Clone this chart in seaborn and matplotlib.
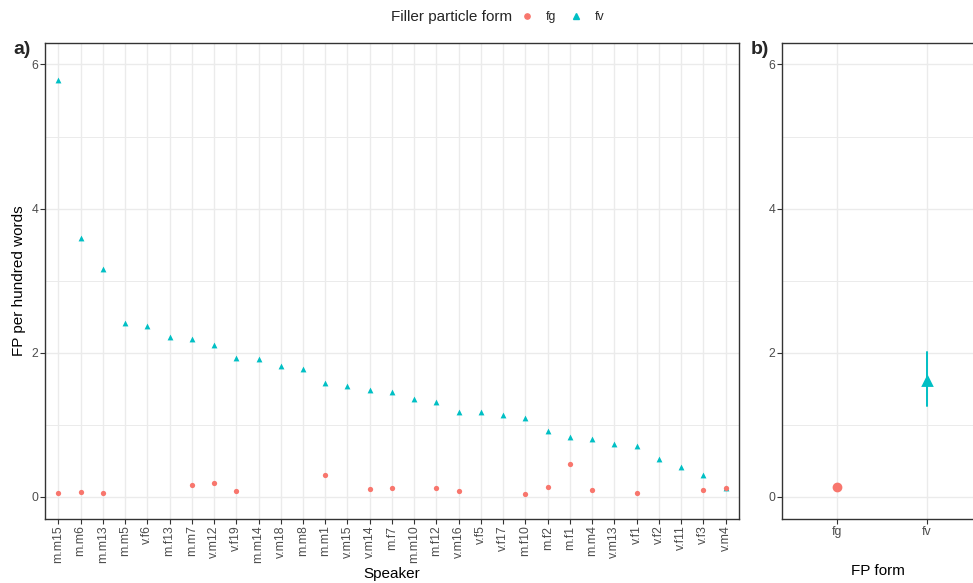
import numpy as np
import pandas as pd
import matplotlib
matplotlib.use("Agg")
import matplotlib.pyplot as plt
from matplotlib.lines import Line2D
from matplotlib.ticker import NullLocator
import seaborn as sns

# Speakers, ordered by their fv rate
speakers = ["m.m15", "m.m6", "m.m13", "m.m5", "v.f6", "m.f13", "m.m7", "v.m12",
            "v.f19", "m.m14", "v.m18", "m.m8", "m.m1", "v.m15", "v.m14", "m.f7",
            "m.m10", "m.f12", "v.m16", "v.f5", "v.f17", "m.f10", "m.f2", "m.f1",
            "m.m4", "v.m13", "v.f1", "v.f2", "v.f11", "v.f3", "v.m4"]

# Filler particles per hundred words, per speaker (None = form not used)
fv_rate = [5.79, 3.59, 3.16, 2.42, 2.37, 2.22, 2.19, 2.11,
           1.93, 1.91, 1.82, 1.78, 1.58, 1.54, 1.48, 1.46,
           1.36, 1.32, 1.18, 1.18, 1.14, 1.10, 0.91, 0.83,
           0.81, 0.74, 0.71, 0.52, 0.42, 0.30, 0.13]
fg_rate = [0.06, 0.07, 0.06, None, None, None, 0.17, 0.19,
           0.08, None, None, None, 0.30, None, 0.11, 0.12,
           None, 0.13, 0.08, None, None, 0.04, 0.14, 0.46,
           0.10, None, 0.05, None, None, 0.09, 0.13]

forms = ["fg", "fv"]
FG_COLOR = "#F8766D"
FV_COLOR = "#00BFC4"

df_fv = pd.DataFrame({"speaker": speakers, "rate": fv_rate, "form": "fv"})
df_fg = pd.DataFrame({"speaker": speakers, "rate": fg_rate, "form": "fg"})
df_fg["rate"] = pd.to_numeric(df_fg["rate"])
df_all = pd.concat([df_fg, df_fv], ignore_index=True).dropna(subset=["rate"])

sns.set_style("white")
plt.rcParams["font.family"] = ["Liberation Sans", "DejaVu Sans"]

GRID = "#EBEBEB"
BORDER = "#333333"
TICKLAB = "#4D4D4D"

fig = plt.figure(figsize=(9.73, 5.83), dpi=100)
ax_a = fig.add_axes([0.0462, 0.1105, 0.7133, 0.816])
ax_b = fig.add_axes([0.8042, 0.1105, 0.204, 0.816])

# Panel a: per-speaker rates
sns.stripplot(data=df_fv, x="speaker", y="rate", order=speakers, jitter=False,
              marker="^", color=FV_COLOR, size=4.2, linewidth=0, ax=ax_a, zorder=3)
sns.stripplot(data=df_fg.dropna(), x="speaker", y="rate", order=speakers, jitter=False,
              marker="o", color=FG_COLOR, size=3.8, linewidth=0, ax=ax_a, zorder=4)
ax_a.set_xticks(range(len(speakers)), speakers)
ax_a.set_xlim(-0.6, len(speakers) - 0.4)
ax_a.set_xlabel("Speaker", fontsize=11, color="black", labelpad=3)
ax_a.set_ylabel("FP per hundred words", fontsize=11, color="black", labelpad=4)
ax_a.tick_params(axis="x", labelrotation=90)

# Panel b: mean per form with bootstrapped 95% CI
sns.pointplot(data=df_all[df_all["form"] == "fg"], x="form", y="rate", order=forms,
              color=FG_COLOR, marker="o", markersize=5.0, linestyle="none",
              errorbar=("ci", 95), n_boot=2000, seed=7,
              err_kws={"linewidth": 1.4}, ax=ax_b)
sns.pointplot(data=df_all[df_all["form"] == "fv"], x="form", y="rate", order=forms,
              color=FV_COLOR, marker="^", markersize=6.0, linestyle="none",
              errorbar=("ci", 95), n_boot=2000, seed=7,
              err_kws={"linewidth": 1.4}, ax=ax_b)
ax_b.set_xticks(range(len(forms)), forms)
ax_b.set_xlim(-0.6, 1.6)
ax_b.set_xlabel("FP form", fontsize=11, color="black")
ax_b.xaxis.set_label_coords(0.479, -0.095)
ax_b.set_ylabel("")

for ax in (ax_a, ax_b):
    ax.set_ylim(-0.3, 6.3)
    ax.set_yticks([0, 2, 4, 6])
    ax.set_yticks([1, 3, 5], minor=True)
    ax.xaxis.set_minor_locator(NullLocator())
    ax.set_axisbelow(True)
    ax.grid(True, which="major", axis="both", color=GRID, linewidth=1.0)
    ax.grid(True, which="minor", axis="y", color=GRID, linewidth=0.7)
    ax.tick_params(axis="both", which="major", direction="out", length=3.5, width=0.8,
                   color=BORDER, labelcolor=TICKLAB, labelsize=8.8, pad=1.5,
                   bottom=True, left=True)
    ax.tick_params(axis="y", which="minor", length=0)
    for side in ("left", "right", "top", "bottom"):
        ax.spines[side].set_visible(True)
        ax.spines[side].set_color(BORDER)
        ax.spines[side].set_linewidth(1.0)
    ax.set_facecolor("white")

# Panel tags
fig.text(22 / 973, 1 - 50 / 583, "a)", fontsize=14, fontweight="bold", ha="center", va="center")
fig.text(760 / 973, 1 - 50 / 583, "b)", fontsize=14, fontweight="bold", ha="center", va="center")

# Legend on top
fig.text(512 / 973, 1 - 17 / 583, "Filler particle form", fontsize=11, ha="right", va="center")
handles = [Line2D([], [], marker="o", linestyle="none", color=FG_COLOR, markersize=3.8),
           Line2D([], [], marker="^", linestyle="none", color=FV_COLOR, markersize=4.6)]
fig.legend(handles, forms, loc="center left", bbox_to_anchor=(520 / 973, 1 - 17 / 583),
           ncol=2, frameon=False, fontsize=8.8, handlelength=1.2, handletextpad=0.95,
           columnspacing=0.95, borderpad=0, borderaxespad=0)

fig.savefig("out.png", dpi=100)
